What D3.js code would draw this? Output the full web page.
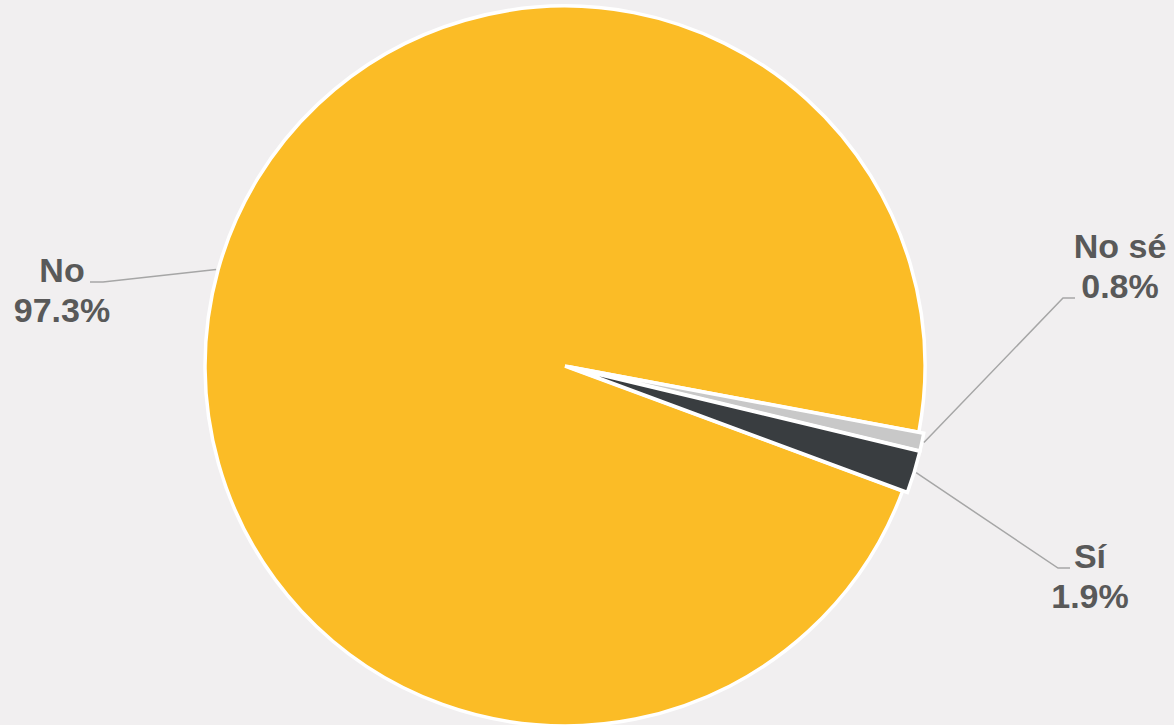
<!doctype html>
<html lang="en">
<head>
  <meta charset="utf-8">
  <title>Pie</title>
  <style>
    body { margin: 0; background: #f1eff0; }
    svg { display: block; }
    .lbl { font-family: "Liberation Sans", Arial, sans-serif; font-weight: bold; font-size: 34px; fill: #595959; }
    .leader { fill: none; stroke: #a6a6a6; stroke-width: 1.5px; }
  </style>
</head>
<body>
  <div id="chart"></div>
  <script src="https://cdn.jsdelivr.net/npm/d3@7"></script>
  <script>
var categories = ["No sé", "Sí", "No"];
var values = [0.8, 1.9, 97.3];
var colors = ["#c8c8c8", "#393d40", "#fbbc26"];
var valueLabels = ["0.8%", "1.9%", "97.3%"];

(function() {
  var width = 1174, height = 725;
  var cx = 565, cy = 366, radius = 360;

  // label text position and leader elbow/end, relative to the pie centre (layout only)
  var labelPos = [[555, -108], [525, 202], [-503, -84]];
  var elbows = [[[498, -68], [510, -68]], [[493, 202], [505, 202]], [[-462, -84], [-475, -84]]];
  var explode = [5, 5, 0];

  var svg = d3.select("#chart").append("svg")
      .attr("width", width)
      .attr("height", height);

  var start = (90 + 10.6) * Math.PI / 180;
  var pie = d3.pie().sort(null).value(function(d) { return d; })
      .startAngle(start).endAngle(start + 2 * Math.PI);
  var arcs = pie(values);

  var arc = d3.arc().innerRadius(0).outerRadius(radius);

  var g = svg.append("g").attr("transform", "translate(" + cx + "," + cy + ")");

  // big slice first so the thin ones sit on top
  var order = [2, 0, 1];
  order.forEach(function(i) {
    var a = arcs[i];
    var mid = (a.startAngle + a.endAngle) / 2;
    var dx = Math.sin(mid) * explode[i], dy = -Math.cos(mid) * explode[i];
    g.append("path")
      .attr("d", arc(a))
      .attr("transform", "translate(" + dx + "," + dy + ")")
      .attr("fill", colors[i])
      .attr("stroke", "#ffffff")
      .attr("stroke-width", 3.5)
      .attr("stroke-linejoin", "miter");
  });

  arcs.forEach(function(a, i) {
    var mid = (a.startAngle + a.endAngle) / 2;
    var r0 = radius + explode[i] + 2;
    var p0 = [Math.sin(mid) * r0, -Math.cos(mid) * r0];
    g.append("path")
      .attr("class", "leader")
      .attr("d", d3.line()([p0, elbows[i][0], elbows[i][1]]));

    var lx = labelPos[i][0], ly = labelPos[i][1];
    var t = g.append("text").attr("class", "lbl")
      .attr("text-anchor", "middle")
      .attr("x", lx).attr("y", ly);
    t.append("tspan").attr("x", lx).attr("dy", 0).text(categories[i]);
    t.append("tspan").attr("x", lx).attr("dy", 40).text(valueLabels[i]);
  });
})();
  </script>
</body>
</html>
